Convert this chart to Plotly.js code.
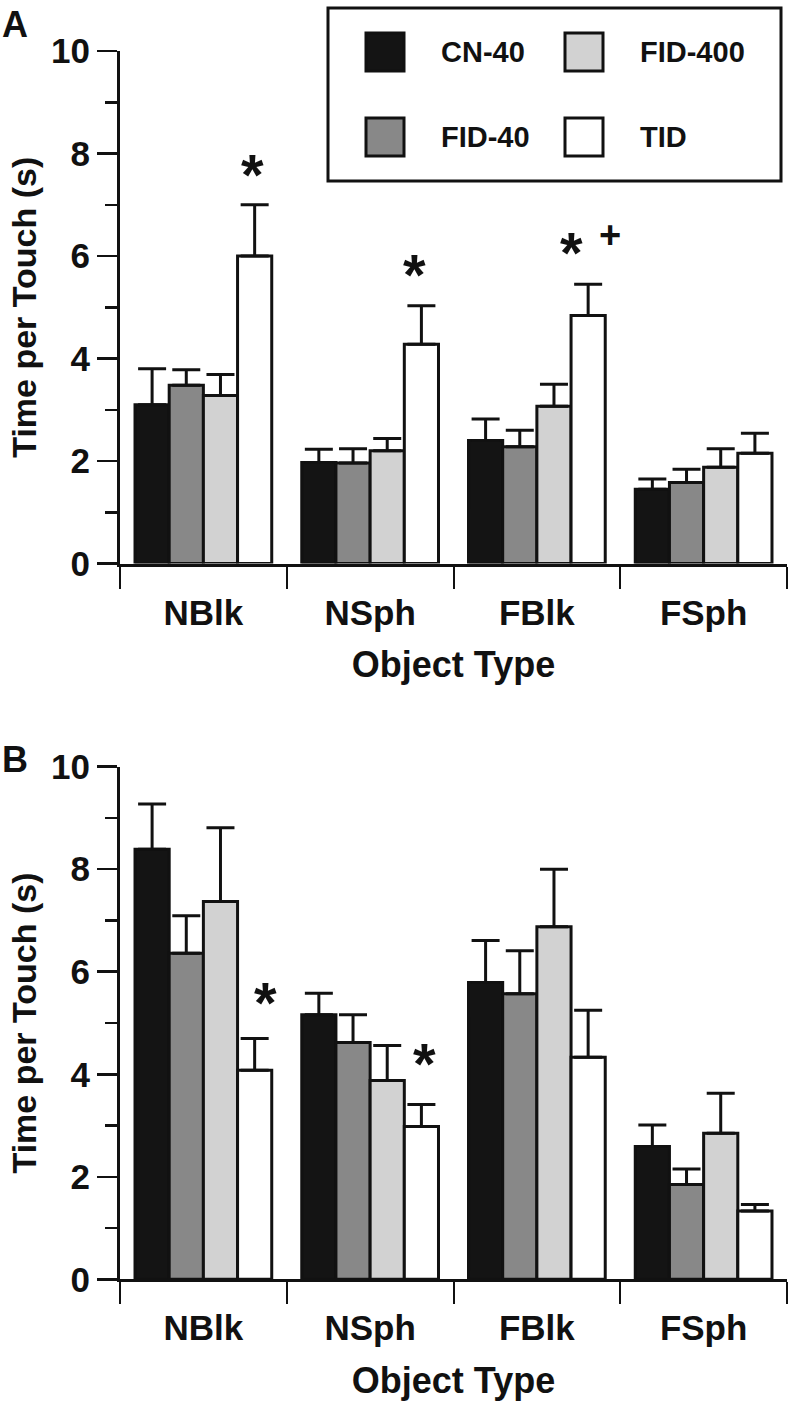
<!DOCTYPE html>
<html>
<head>
<meta charset="utf-8">
<script src="https://cdn.plot.ly/plotly-3.0.1.min.js"></script>
<style>html,body{margin:0;padding:0;background:#fff;}#chart{width:797px;height:1404px;}</style>
</head>
<body>
<div id="chart"></div>
<script>
// ---------- data ----------
const categories = ['NBlk', 'NSph', 'FBlk', 'FSph'];
const seriesNames = ['CN-40', 'FID-40', 'FID-400', 'TID'];

// Panel A (mean, SEM)
const meanA_CN40   = [3.10, 1.97, 2.40, 1.45];
const semA_CN40    = [0.70, 0.26, 0.42, 0.20];
const meanA_FID40  = [3.48, 1.96, 2.28, 1.58];
const semA_FID40   = [0.30, 0.28, 0.32, 0.26];
const meanA_FID400 = [3.28, 2.20, 3.07, 1.88];
const semA_FID400  = [0.41, 0.24, 0.43, 0.36];
const meanA_TID    = [6.00, 4.28, 4.84, 2.15];
const semA_TID     = [1.00, 0.75, 0.61, 0.39];

// Panel B (mean, SEM)
const meanB_CN40   = [8.39, 5.16, 5.79, 2.59];
const semB_CN40    = [0.88, 0.42, 0.82, 0.42];
const meanB_FID40  = [6.36, 4.62, 5.57, 1.85];
const semB_FID40   = [0.73, 0.54, 0.84, 0.30];
const meanB_FID400 = [7.37, 3.88, 6.88, 2.85];
const semB_FID400  = [1.44, 0.68, 1.12, 0.78];
const meanB_TID    = [4.08, 2.98, 4.33, 1.33];
const semB_TID     = [0.62, 0.43, 0.92, 0.13];

// significance marks: [category, series, symbol]
const marksA = [['NBlk', 'TID', '*'], ['NSph', 'TID', '*'], ['FBlk', 'TID', '*'], ['FBlk', 'TID', '+']];
const marksB = [['NBlk', 'TID', '*'], ['NSph', 'TID', '*']];

const yTickVals = [0, 2, 4, 6, 8, 10];
const xTitle = 'Object Type';
const yTitle = 'Time per Touch (s)';
const panelLabels = ['A', 'B'];

// ---------- style ----------
const W = 797, H = 1404;
const fx = x => x / W, fy = y => 1 - y / H;
const FONT = 'Liberation Sans, Arial, Helvetica, sans-serif';
const INK = '#111111';
const colors = ['#141414', '#888888', '#d2d2d2', '#ffffff'];
const BARGAP = 0.18;
const xDomain = [fx(120), fx(787)];
const yDomainA = [fy(563.5), fy(51)];
const yDomainB = [fy(1279.3), fy(766.7)];
const markStyle = {
  A: [{dx: -2, dy: 4}, {dx: -7, dy: 5}, {dx: -17, dy: 5}, {dx: 22, dy: 8}],
  B: [{dx: 11, dy: 9}, {dx: 3, dy: 15}]
};

const means = {A: [meanA_CN40, meanA_FID40, meanA_FID400, meanA_TID], B: [meanB_CN40, meanB_FID40, meanB_FID400, meanB_TID]};
const sems  = {A: [semA_CN40, semA_FID40, semA_FID400, semA_TID],     B: [semB_CN40, semB_FID40, semB_FID400, semB_TID]};

const traces = [];
['A', 'B'].forEach((p, pi) => {
  seriesNames.forEach((name, si) => {
    traces.push({
      type: 'bar', name: name, showlegend: false,
      x: categories, y: means[p][si],
      xaxis: pi === 0 ? 'x' : 'x2', yaxis: pi === 0 ? 'y' : 'y2',
      marker: {color: colors[si], line: {color: INK, width: 3}},
      error_y: {type: 'data', symmetric: false, array: sems[p][si], arrayminus: means[p][si].map(() => 0),
                color: INK, thickness: 3, width: 14},
      hoverinfo: 'skip'
    });
  });
});

function xAxis(anchor) {
  return {
    domain: xDomain, anchor: anchor, type: 'category', range: [-0.5, 3.5],
    showline: true, linewidth: 3, linecolor: INK, mirror: false,
    ticks: 'outside', tickson: 'boundaries', ticklen: 22, tickwidth: 2, tickcolor: INK,
    tickfont: {family: FONT, size: 35, color: INK, weight: 'bold'}, ticklabelstandoff: 16,
    showgrid: false, zeroline: false, fixedrange: true,
    title: {text: xTitle, font: {family: FONT, size: 36, color: INK, weight: 'bold'}, standoff: 22}
  };
}
function yAxis(anchor, domain) {
  return {
    domain: domain, anchor: anchor, range: [0, 10], tickvals: yTickVals,
    showline: true, linewidth: 3, linecolor: INK,
    ticks: 'outside', ticklen: 20, tickwidth: 2.5, tickcolor: INK,
    minor: {dtick: 1, tick0: 0, ticks: 'outside', ticklen: 12, tickwidth: 2.5, tickcolor: INK, showgrid: false},
    tickfont: {family: FONT, size: 35, color: INK, weight: 'bold'}, ticklabelstandoff: 0,
    showgrid: false, zeroline: false, fixedrange: true,
    title: {text: yTitle, font: {family: FONT, size: 34, color: INK, weight: 'bold'}, standoff: 5}
  };
}

// bar center offset within a category for series index si
const barW = (1 - BARGAP) / seriesNames.length;
const offset = si => -(1 - BARGAP) / 2 + (si + 0.5) * barW;

const annotations = [];
[['A', marksA, 'x', 'y'], ['B', marksB, 'x2', 'y2']].forEach(([p, marks, xr, yr]) => {
  marks.forEach((m, k) => {
    const ci = categories.indexOf(m[0]);
    const si = seriesNames.indexOf(m[1]);
    const top = means[p][si][ci] + sems[p][si][ci];
    const st = markStyle[p][k];
    const isStar = m[2] === '*';
    annotations.push({
      xref: xr, yref: yr, x: ci + offset(si), y: top, text: m[2], showarrow: false,
      xanchor: 'center', yanchor: 'bottom', xshift: st.dx, yshift: (isStar ? -8 : 18) + st.dy,
      font: {family: FONT, size: isStar ? 58 : 38, color: INK, weight: 'bold'}
    });
  });
});
// panel labels
annotations.push({xref: 'paper', yref: 'paper', x: fx(0), y: fy(2), xanchor: 'left', yanchor: 'top', text: panelLabels[0], showarrow: false,
  font: {family: FONT, size: 36, color: INK, weight: 'bold'}});
annotations.push({xref: 'paper', yref: 'paper', x: fx(0), y: fy(737), xanchor: 'left', yanchor: 'top', text: panelLabels[1], showarrow: false,
  font: {family: FONT, size: 36, color: INK, weight: 'bold'}});

// manual legend
const shapes = [{type: 'rect', xref: 'paper', yref: 'paper', x0: fx(328), x1: fx(781), y0: fy(181), y1: fy(8),
  line: {color: INK, width: 3}, fillcolor: 'rgba(0,0,0,0)'}];
const legendOrder = [0, 2, 1, 3]; // column-major layout: CN-40, FID-400 / FID-40, TID
const legCols = [366, 565], legRows = [33, 118], sw = 38;
legendOrder.forEach((si, k) => {
  const col = k % 2, row = Math.floor(k / 2);
  const x0 = legCols[col], y0 = legRows[row];
  shapes.push({type: 'rect', xref: 'paper', yref: 'paper', x0: fx(x0), x1: fx(x0 + sw), y0: fy(y0 + sw), y1: fy(y0),
    line: {color: INK, width: 3}, fillcolor: colors[si]});
  annotations.push({xref: 'paper', yref: 'paper', x: fx(x0 + 73), y: fy(y0 + sw / 2), xanchor: 'left', yanchor: 'middle',
    text: seriesNames[si], showarrow: false, font: {family: FONT, size: 29, color: INK, weight: 'bold'}});
});

const layout = {
  width: W, height: H, margin: {l: 0, r: 0, t: 0, b: 0},
  paper_bgcolor: '#ffffff', plot_bgcolor: 'rgba(0,0,0,0)',
  barmode: 'group', bargap: BARGAP, bargroupgap: 0,
  showlegend: false,
  xaxis: xAxis('y'), yaxis: yAxis('x', yDomainA),
  xaxis2: xAxis('y2'), yaxis2: yAxis('x2', yDomainB),
  annotations: annotations, shapes: shapes
};

Plotly.newPlot('chart', traces, layout, {staticPlot: true, displayModeBar: false});
</script>
</body>
</html>
